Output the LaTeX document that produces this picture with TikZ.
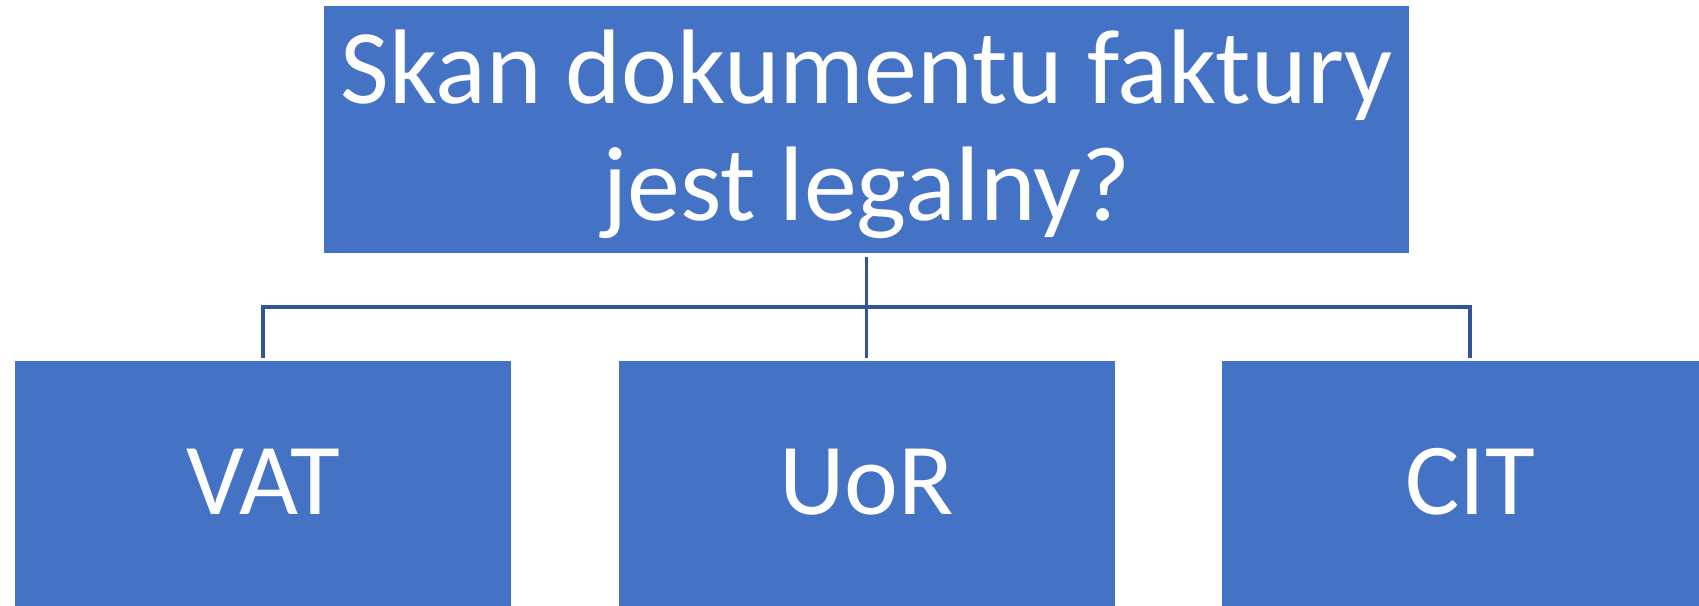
\documentclass[tikz,border=0pt]{standalone}
\usepackage{fontspec}
\setmainfont{Carlito}
\usepackage{tikz}
\definecolor{boxblue}{RGB}{68,114,196}
\definecolor{lineblue}{RGB}{50,84,156}

\begin{document}
\begin{tikzpicture}[x=1pt, y=1pt,
	box/.style={rectangle, fill=boxblue, draw=white, line width=1pt, text=white, inner sep=0pt, minimum height=248},
	leaf/.style={box, minimum width=497, text depth=6pt, font=\fontsize{102}{118}\selectfont},
	conn/.style={lineblue, line width=3.2pt}]
	\useasboundingbox (0,0) rectangle (1699,-605);
	\node[box, minimum width=1086, align=center, font=\fontsize{106}{117}\selectfont] (skan) at (866.5,-129.5) {\rule{0pt}{\dimexpr\fontcharht\font`k+9pt\relax}Skan dokumentu faktury\\jest legalny?};
	\node[leaf] (vat) at (263,-484.5) {VAT};
	\node[leaf] (uor) at (866.5,-484.5) {UoR};
	\node[leaf] (cit) at (1470,-484.5) {CIT};
	\coordinate (fork) at (866.5,-307);

	% connectors
	\draw[conn, shorten <=3pt](skan) -- (fork);
	\draw[conn, shorten >=2pt](fork) -| (vat);
	\draw[conn, shorten >=2pt](fork) -- (uor);
	\draw[conn, shorten >=2pt](fork) -| (cit);
\end{tikzpicture}
\end{document}
